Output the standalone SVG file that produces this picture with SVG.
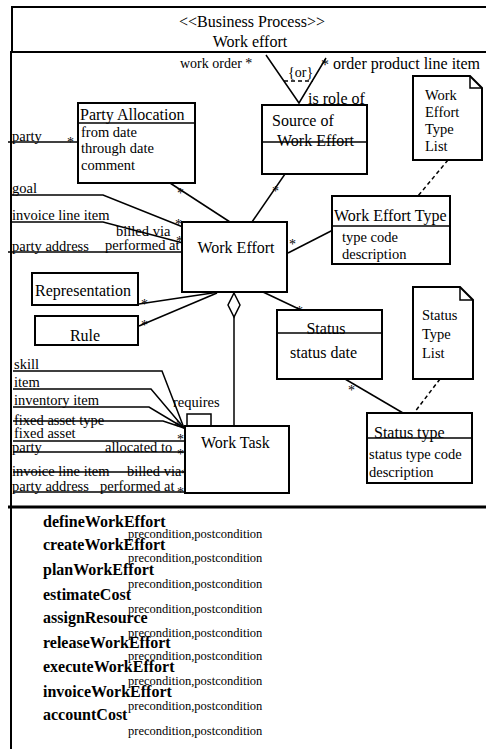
<svg xmlns="http://www.w3.org/2000/svg" width="486" height="749" viewBox="0 0 486 749">
  <style>
    .frame { fill: none; stroke: #000; stroke-width: 2; }
    .box { fill: #fff; stroke: #000; stroke-width: 2; }
    .sep { stroke: #000; stroke-width: 1.5; }
    .ln { fill: none; stroke: #000; stroke-width: 1.5; }
    .dash { fill: none; stroke: #000; stroke-width: 1.5; stroke-dasharray: 4 3; }
    text { font-family: "Liberation Serif", "Times New Roman", serif; fill: #000; }
    .t16 { font-size: 16px; }
    .t14 { font-size: 14.5px; }
    .star { font-size: 14px; }
    .op { font-size: 16px; font-weight: bold; }
    .pc { font-size: 12.5px; }
    .mid { text-anchor: middle; }
  </style>

  <!-- frame: header, body and operations compartment -->
  <g id="frame">
    <path class="frame" d="M486,7 H12 V52"/>
    <path class="frame" d="M486,52 H11 V749"/>
    <line x1="8" y1="507" x2="486" y2="507" stroke="#000" stroke-width="3"/>
    <text class="t16 mid" x="252" y="27">&lt;&lt;Business Process&gt;&gt;</text>
    <text class="t16 mid" x="250" y="47">Work effort</text>
  </g>

  <!-- associations -->
  <g id="connectors">
    <!-- work order / order product line item roles -->
    <path class="ln" d="M266,55 L299,103 L326,58"/>
    <line class="dash" x1="284" y1="81" x2="313" y2="81"/>
    <text class="star" x="180" y="68">work order *</text>
    <text class="star" x="288" y="77">{or}</text>
    <text class="t16" x="321" y="70">*</text>
    <text class="t16" x="333" y="69">order product line item</text>
    <text class="t16" x="308" y="104">is role of</text>

    <!-- Party Allocation -->
    <line class="ln" x1="8" y1="142" x2="78" y2="142"/>
    <text class="t14" x="12" y="141">party</text>
    <text class="star" x="67" y="147">*</text>
    <line class="ln" x1="170" y1="183" x2="230" y2="222"/>
    <text class="star" x="177" y="198">*</text>

    <!-- goal -->
    <path class="ln" d="M12,195 H103 L183,227"/>
    <text class="t14" x="12" y="193">goal</text>
    <text class="star" x="175" y="229">*</text>

    <!-- invoice line item -->
    <path class="ln" d="M12,222 H103 L183,243"/>
    <text class="t14" x="12" y="220">invoice line item</text>
    <text class="t14" x="116" y="236">billed via</text>
    <text class="star" x="176" y="246">*</text>

    <!-- party address -->
    <line class="ln" x1="8" y1="252" x2="182" y2="252"/>
    <text class="t14" x="12" y="251">party address</text>
    <text class="t14" x="105" y="250">performed at</text>

    <!-- Source of Work Effort -->
    <line class="ln" x1="252" y1="222" x2="285" y2="174"/>
    <text class="star" x="272" y="196">*</text>

    <!-- Work Effort Type -->
    <line class="ln" x1="288" y1="253" x2="333" y2="230"/>
    <text class="star" x="289" y="249">*</text>
    <line class="dash" x1="448" y1="160" x2="418" y2="196"/>

    <!-- Representation / Rule -->
    <line class="ln" x1="219" y1="292" x2="139" y2="304"/>
    <text class="star" x="141" y="309">*</text>
    <line class="ln" x1="217" y1="293" x2="139" y2="326"/>
    <text class="star" x="141" y="330">*</text>

    <!-- aggregation Work Effort - Work Task -->
    <path class="box" d="M234,293 L240,305 L234,317 L228,305 Z" style="stroke-width:1.5"/>
    <line class="ln" x1="234" y1="317" x2="234" y2="426"/>

    <!-- Status -->
    <line class="ln" x1="263" y1="292" x2="301" y2="310"/>
    <text class="star" x="296" y="316">*</text>
    <line class="ln" x1="345" y1="379" x2="403" y2="413"/>
    <text class="star" x="348" y="395">*</text>
    <line class="dash" x1="440" y1="379" x2="414" y2="413"/>

    <!-- Work Task resources -->
    <path class="ln" d="M13,371 H162 L184,428"/>
    <text class="t14" x="14" y="369">skill</text>
    <path class="ln" d="M13,389 H151 L184,428"/>
    <text class="t14" x="14" y="387">item</text>
    <path class="ln" d="M13,407 H149 L184,428"/>
    <text class="t14" x="14" y="405">inventory item</text>
    <path class="ln" d="M13,421 H163 L184,428"/>
    <text class="t14" x="14" y="425">fixed asset type</text>
    <text class="star" x="174" y="431">*</text>
    <line class="ln" x1="13" y1="441" x2="185" y2="441"/>
    <text class="t14" x="14" y="438">fixed asset</text>
    <text class="star" x="177" y="444">*</text>
    <line class="ln" x1="13" y1="452" x2="185" y2="452"/>
    <text class="t14" x="12" y="452">party</text>
    <text class="t14" x="105" y="452">allocated to</text>
    <text class="star" x="177" y="459">*</text>
    <line class="ln" x1="13" y1="472" x2="185" y2="472"/>
    <text class="t14" x="12" y="476">invoice line item</text>
    <text class="t14" x="127" y="476">billed via</text>
    <text class="star" x="181" y="479">*</text>
    <line class="ln" x1="13" y1="492" x2="185" y2="492"/>
    <text class="t14" x="12" y="491">party address</text>
    <text class="t14" x="100" y="491">performed at</text>
    <text class="star" x="177" y="497">*</text>

    <!-- requires (reflexive) -->
    <rect class="ln" x="187" y="414" width="24" height="12"/>
    <text class="t14" x="173" y="407">requires</text>
  </g>

  <g id="party-allocation">
    <rect class="box" x="78" y="103" width="117" height="80"/>
    <line class="sep" x1="78" y1="123" x2="195" y2="123"/>
    <text class="t16" x="80" y="120">Party Allocation</text>
    <text class="t14" x="81" y="137">from date</text>
    <text class="t14" x="81" y="153">through date</text>
    <text class="t14" x="81" y="170">comment</text>
  </g>

  <g id="source-of-work-effort">
    <rect class="box" x="262" y="105" width="105" height="69"/>
    <text class="t16" x="272" y="126">Source of</text>
    <text class="t16" x="277" y="146">Work Effort</text>
    <line class="sep" x1="262" y1="142" x2="367" y2="142"/>
  </g>

  <g id="work-effort">
    <rect class="box" x="182" y="222" width="105" height="70"/>
    <text class="t16 mid" x="236" y="253">Work Effort</text>
  </g>

  <g id="work-effort-type">
    <rect class="box" x="332" y="196" width="118" height="68"/>
    <line class="sep" x1="332" y1="226" x2="450" y2="226"/>
    <text class="t16" x="334" y="221">Work Effort Type</text>
    <text class="t14" x="342" y="242">type code</text>
    <text class="t14" x="342" y="259">description</text>
  </g>

  <g id="work-effort-type-list">
    <path class="box" d="M413,76 H470 L482,88 V160 H413 Z"/>
    <path class="ln" d="M470,76 V88 H482"/>
    <text class="t14" x="425" y="100">Work</text>
    <text class="t14" x="425" y="117">Effort</text>
    <text class="t14" x="425" y="134">Type</text>
    <text class="t14" x="425" y="151">List</text>
  </g>

  <g id="representation">
    <rect class="box" x="32" y="273" width="106" height="32"/>
    <text class="t16" x="35" y="296">Representation</text>
  </g>

  <g id="rule">
    <rect class="box" x="35" y="316" width="103" height="29"/>
    <text class="t16 mid" x="85" y="341">Rule</text>
  </g>

  <g id="status">
    <rect class="box" x="277" y="310" width="105" height="69"/>
    <text class="t16 mid" x="326" y="334">Status</text>
    <line class="sep" x1="277" y1="333" x2="382" y2="333"/>
    <text class="t16" x="290" y="358">status date</text>
  </g>

  <g id="status-type-list">
    <path class="box" d="M413,287 H460 L473,300 V379 H413 Z"/>
    <path class="ln" d="M460,287 V300 H473"/>
    <text class="t14" x="422" y="320">Status</text>
    <text class="t14" x="422" y="339">Type</text>
    <text class="t14" x="422" y="358">List</text>
  </g>

  <g id="status-type">
    <rect class="box" x="367" y="413" width="105" height="70"/>
    <text class="t16" x="374" y="438">Status type</text>
    <line class="sep" x1="367" y1="438" x2="472" y2="438"/>
    <text class="t14" x="369" y="459">status type code</text>
    <text class="t14" x="369" y="477">description</text>
  </g>

  <g id="work-task">
    <rect class="box" x="185" y="426" width="104" height="67"/>
    <text class="t16" x="201" y="448">Work Task</text>
  </g>

  <!-- operations with their conditions -->
  <g id="operations">
    <text class="op" x="43" y="527">defineWorkEffort</text>
    <text class="pc" x="128" y="538">precondition,postcondition</text>
    <text class="op" x="43" y="550">createWorkEffort</text>
    <text class="pc" x="128" y="562">precondition,postcondition</text>
    <text class="op" x="43" y="575">planWorkEffort</text>
    <text class="pc" x="128" y="588">precondition,postcondition</text>
    <text class="op" x="43" y="600">estimateCost</text>
    <text class="pc" x="128" y="613">precondition,postcondition</text>
    <text class="op" x="43" y="623">assignResource</text>
    <text class="pc" x="128" y="637">precondition,postcondition</text>
    <text class="op" x="43" y="648">releaseWorkEffort</text>
    <text class="pc" x="128" y="660">precondition,postcondition</text>
    <text class="op" x="43" y="672">executeWorkEffort</text>
    <text class="pc" x="128" y="685">precondition,postcondition</text>
    <text class="op" x="43" y="697">invoiceWorkEffort</text>
    <text class="pc" x="128" y="710">precondition,postcondition</text>
    <text class="op" x="43" y="720">accountCost</text>
    <text class="pc" x="128" y="735">precondition,postcondition</text>
  </g>
</svg>
